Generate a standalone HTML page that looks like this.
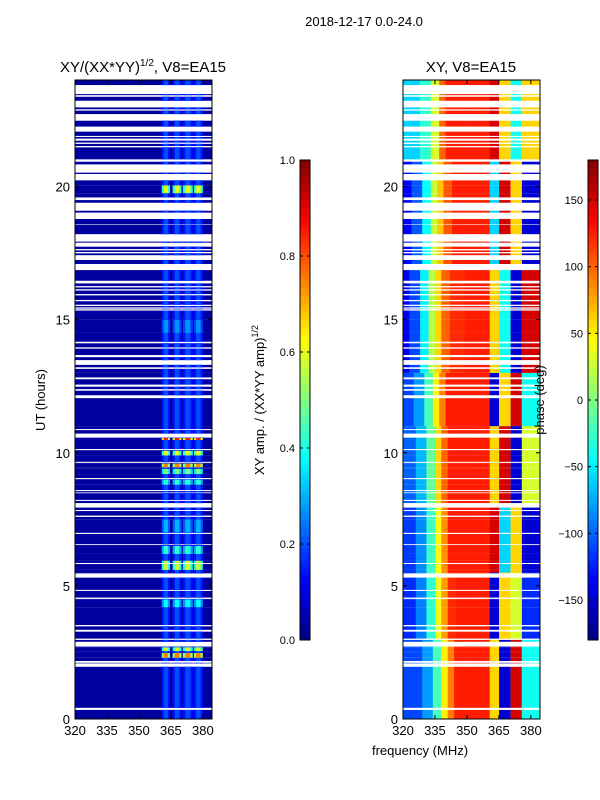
<!DOCTYPE html>
<html><head><meta charset="utf-8">
<style>
body{margin:0;background:#fff;}
svg{display:block;font-family:"Liberation Sans",sans-serif;}
</style></head>
<body>
<svg id="fig" width="600" height="800" viewBox="0 0 600 800">
<rect width="600" height="800" fill="#fff"/>
<text x="364" y="26" font-size="13" text-anchor="middle">2018-12-17 0.0-24.0</text>
<text x="143" y="72" font-size="15" text-anchor="middle">XY/(XX*YY)<tspan font-size="10" dy="-6">1/2</tspan><tspan dy="6">, V8=EA15</tspan></text>
<text x="471" y="72" font-size="15" text-anchor="middle">XY, V8=EA15</text>
<text x="420" y="755" font-size="13" text-anchor="middle">frequency (MHz)</text>
<text transform="translate(45,400) rotate(-90)" font-size="13" text-anchor="middle">UT (hours)</text>
<text transform="translate(264,400) rotate(-90)" font-size="13" text-anchor="middle">XY amp. / (XX*YY amp)<tspan font-size="9" dy="-6">1/2</tspan></text>
<g id="left"></g>
<g id="right"></g>
<g id="cb1"></g>
<g id="cb2"></g>
<g id="axes"></g>
<text transform="translate(544,400) rotate(-90)" font-size="13" text-anchor="middle">phase (deg)</text>
</svg>
<script>
// ---- data ----
const gaps = [[23.47,23.81],[23.37,23.43],[22.97,23.22],[22.85,22.90],[22.47,22.72],[22.06,22.25],[21.86,21.90],[21.72,21.80],[21.60,21.65],[21.47,21.52],[20.93,21.02],[20.52,20.83],[20.23,20.47],[19.49,19.59],[19.09,19.39],[18.78,19.02],[18.57,18.59],[17.93,18.21],[17.74,17.89],[17.60,17.65],[17.49,17.54],[17.24,17.42],[16.86,17.09],[16.36,16.46],[16.21,16.26],[16.09,16.14],[15.91,15.96],[15.69,15.74],[15.51,15.56],[15.41,15.46],[15.34,15.39],[14.11,14.17],[13.91,13.96],[13.59,13.67],[13.30,13.48],[13.15,13.21],[12.76,12.83],[12.48,12.56],[12.33,12.39],[12.05,12.16],[10.85,10.89],[10.57,10.72],[10.10,10.14],[9.62,9.66],[9.01,9.05],[8.56,8.60],[8.48,8.51],[8.19,8.23],[7.94,8.11],[7.81,7.85],[7.59,7.64],[6.95,6.99],[6.54,6.57],[5.82,5.86],[5.31,5.47],[4.81,4.85],[4.51,4.56],[3.48,3.53],[3.28,3.35],[2.97,3.02],[2.72,2.90],[2.11,2.18],[1.96,2.09],[0.34,0.42]];
const ampWindows = [[360.7,364.6],[365.8,370.0],[370.6,375.3],[375.8,380.0]];
const ampBaseline = 0.03;
const ampBand = 0.2;
const ampBursts = [[19.75,20.05,0.6],[10.48,10.56,0.85],[9.9,10.08,0.6],[9.45,9.6,0.75],[9.2,9.4,0.5],[8.8,9.0,0.42],[6.2,6.5,0.42],[5.6,5.95,0.58],[4.2,4.5,0.38],[2.55,2.7,0.58],[2.3,2.48,0.75],[7.0,7.5,0.3],[14.5,15.0,0.27]];
const phaseFreqs = [320,326,331,335,338,341,345,352,360.7];
const phaseBlockStarts = [0,3,5.5,8,11,13,17,21];
const phaseLeft = [-110,-120,-115,-100,-110,-140,-135,-60];
const phaseShift = [3,0,0,0,-1,-3,-2,2];
const phaseProfile = [0,30,90,160,200,240,260,265,260];
const winPhaseBlocks = [[60,-150,150,-40],[-150,60,30,-120],[150,-60,60,-150],[60,150,-150,30],[-150,60,150,-40],[60,-40,-150,150],[-60,150,60,-150],[150,60,-40,60]];
const ampTicks = [0,0.2,0.4,0.6,0.8,1.0];
const phaseTicks = [-150,-100,-50,0,50,100,150];
const xTicks = [320,335,350,365,380];
const yTicks = [0,5,10,15,20];
// ---- scales ----
const T0=80,T1=719,FMIN=320,FMAX=384.3;
const yS=h=>T1-(h/24)*(T1-T0);
function xS(f,x0){return x0+(f-FMIN)/(FMAX-FMIN)*137;}
function jet(v){v=Math.max(0,Math.min(1,v));const c=t=>Math.round(255*Math.max(0,Math.min(1,1.5-Math.abs(4*v-t))));return `rgb(${c(3)},${c(2)},${c(1)})`;}
const NS='http://www.w3.org/2000/svg';
function el(tag,attrs,parent){const e=document.createElementNS(NS,tag);for(const k in attrs)e.setAttribute(k,attrs[k]);parent.appendChild(e);return e;}
function segments(){const gs=gaps.slice().sort((a,b)=>a[0]-b[0]);const segs=[];let cur=0;for(const g of gs){if(g[0]>cur)segs.push([cur,g[0]]);cur=Math.max(cur,g[1]);}if(cur<24)segs.push([cur,24]);return segs;}
const segs=segments();
const cuts=new Set();ampBursts.forEach(b=>{cuts.add(b[0]);cuts.add(b[1]);});phaseBlockStarts.forEach(s=>cuts.add(s));
const cutArr=[...cuts].sort((a,b)=>a-b);
function pieces(){const out=[];segs.forEach(s=>{let a=s[0];cutArr.forEach(c=>{if(c>a&&c<s[1]){out.push([a,c]);a=c;}});out.push([a,s[1]]);});return out;}
const rows=pieces();
function ampAt(h){let v=ampBand;ampBursts.forEach(b=>{if(h>=b[0]&&h<b[1])v=b[2];});return v;}
function blockIdx(h){let i=0;phaseBlockStarts.forEach((s,k)=>{if(h>=s)i=k;});return i;}
const L=document.getElementById('left'),R=document.getElementById('right');
rows.forEach(r=>{
  const h=(r[0]+r[1])/2,y0=yS(r[1]),y1=yS(r[0]);
  let e=el('rect',{x:75,y:y0,width:137,height:y1-y0,fill:jet(ampBaseline)},L);
  
  
  const a=ampAt(h);
  ampWindows.forEach(w=>{
    const xa=xS(w[0],75),xb=xS(w[1],75),wd=xb-xa;
    let c=el('rect',{x:xa,y:y0,width:wd,height:y1-y0,fill:jet(a*0.7)},L);
    
    
    let c2=el('rect',{x:xa+wd*0.25,y:y0,width:wd*0.5,height:y1-y0,fill:jet(a)},L);
    
    
  });
  const bi=blockIdx(h);
  for(let i=0;i<phaseFreqs.length-1;i++){
    const f0=phaseFreqs[i]+(i>0?phaseShift[bi]:0),f1=phaseFreqs[i+1]+(i<phaseFreqs.length-2?phaseShift[bi]:0);
    const ph=Math.min(phaseLeft[bi]+phaseProfile[i],125);
    const v=(ph+180)/360;
    let p=el('rect',{x:xS(f0,403),y:y0,width:Math.max(0,xS(f1,403)-xS(f0,403))+0.5,height:y1-y0,fill:jet(v)},R);
    
    
  }
  const wp=winPhaseBlocks[bi];
  ampWindows.forEach((w,k)=>{
    const f0=k===0?360.7:ampWindows[k-1][1]+0.5, f1=k===3?384.3:w[1]+0.5;
    const xa=xS(f0,403),xb=xS(f1,403);
    let p=el('rect',{x:xa,y:y0,width:xb-xa,height:y1-y0,fill:jet((wp[k]+180)/360)},R);
    
    
  });
});
function colorbar(g,x,vals,vmin,vmax,fmt){
  const n=120;
  for(let i=0;i<n;i++){const r=el('rect',{x:x,y:640-(i+1)*4,width:10,height:4.3,fill:jet((i+0.5)/n)},g);
    
    }
  el('rect',{x:x,y:160,width:10,height:480,fill:'none',stroke:'#000','stroke-width':1},g);
  vals.forEach(v=>{const y=640-(v-vmin)/(vmax-vmin)*480;
    el('line',{x1:x,x2:x+3,y1:y,y2:y,stroke:'#000'},g);el('line',{x1:x+7,x2:x+10,y1:y,y2:y,stroke:'#000'},g);
    const t=el('text',{x:x-5,y:y+4,'font-size':11,'text-anchor':'end'},g);t.textContent=fmt(v);
    
    });
}
colorbar(document.getElementById('cb1'),300,ampTicks,0,1,v=>v.toFixed(1));
colorbar(document.getElementById('cb2'),588,phaseTicks,-180,180,v=>v<0?'\u2212'+Math.abs(v):String(v));
const A=document.getElementById('axes');
[75,403].forEach(x0=>{
  el('rect',{x:x0,y:T0,width:137,height:T1-T0,fill:'none',stroke:'#000','stroke-width':1},A);
  xTicks.forEach(f=>{const x=xS(f,x0);
    el('line',{x1:x,x2:x,y1:T1,y2:T1-4,stroke:'#000'},A);el('line',{x1:x,x2:x,y1:T0,y2:T0+4,stroke:'#000'},A);
    const t=el('text',{x:x,y:T1+16,'font-size':13,'text-anchor':'middle'},A);t.textContent=f;
    
    });
  yTicks.forEach(h=>{const y=yS(h);
    el('line',{x1:x0,x2:x0+4,y1:y,y2:y,stroke:'#000'},A);el('line',{x1:x0+137,x2:x0+133,y1:y,y2:y,stroke:'#000'},A);
    const t=el('text',{x:x0-5,y:y+5,'font-size':13,'text-anchor':'end'},A);t.textContent=h;
    
    });
});
</script>
</body></html>
